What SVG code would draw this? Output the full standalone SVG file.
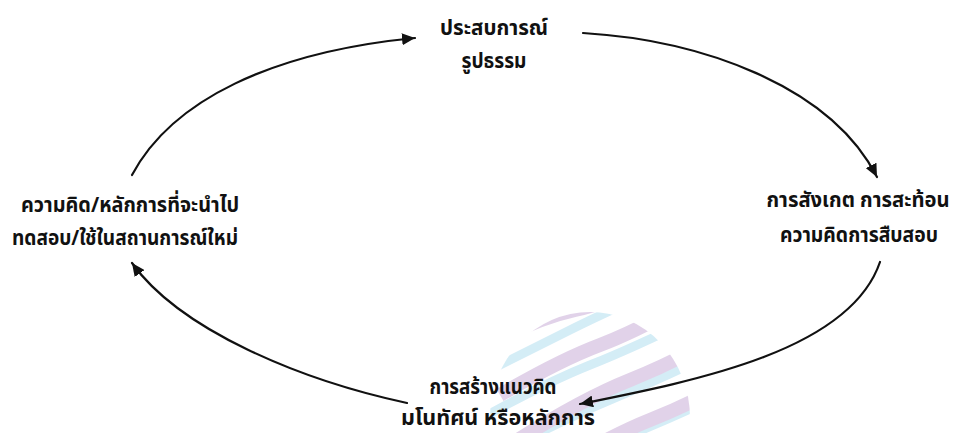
<svg xmlns="http://www.w3.org/2000/svg" width="956" height="433" viewBox="0 0 956 433">
<style>
.t{font-family:"Noto Sans Thai","Noto Sans","Liberation Sans",sans-serif;font-weight:bold;font-size:21px;fill:#111;text-anchor:middle}
.c{fill:none;stroke:#111;stroke-width:2.2;stroke-linecap:round}
.wp{fill:none;stroke:#dccbe5;stroke-width:14}
.wb{fill:none;stroke:#cdeaf5;stroke-width:9}
</style>
<defs>
<marker id="ah" markerUnits="userSpaceOnUse" markerWidth="14" markerHeight="12" refX="13" refY="6" orient="auto">
<path d="M0,0 L13,6 L0,12 z" fill="#111"/>
</marker>
<clipPath id="wc"><ellipse cx="590" cy="418" rx="100" ry="106"/></clipPath>
</defs>
<rect width="956" height="433" fill="#fff"/>
<g id="watermark" clip-path="url(#wc)" opacity="0.85">
<path class="wb" d="M470,380 Q530,350 570,330 T700,270"/>
<path class="wb" d="M470,425 Q540,385 590,365 T710,310"/>
<path class="wb" d="M470,470 Q550,425 610,400 T720,350"/>
<path class="wb" d="M490,500 Q570,460 630,435 T730,390"/>
<path class="wp" d="M480,350 Q530,320 575,310 T690,265"/>
<path class="wp" d="M500,395 Q560,360 600,345 T710,290"/>
<path class="wp" d="M510,445 Q580,400 630,380 T730,330"/>
<path class="wp" d="M520,490 Q600,440 650,420 T740,375"/>
<path class="wp" d="M560,520 Q630,475 680,455 T760,415"/>
</g>
<g id="connectors">
<path class="c" d="M132,175 C172,100 272,52 415,38" marker-end="url(#ah)"/>
<path class="c" d="M583,33 C700,40 830,85 877,177" marker-end="url(#ah)"/>
<path class="c" d="M880,262 C850,350 700,380 580,404" marker-end="url(#ah)"/>
<path class="c" d="M407,403 C300,380 180,330 132,263" marker-end="url(#ah)"/>
</g>
<g id="node-top">
<text class="t" x="494" y="35" textLength="108" lengthAdjust="spacingAndGlyphs">ประสบการณ์</text>
<text class="t" x="494" y="68" textLength="65" lengthAdjust="spacingAndGlyphs">รูปธรรม</text>
</g>
<g id="node-right">
<text class="t" x="858" y="207" textLength="183" lengthAdjust="spacingAndGlyphs">การสังเกต การสะท้อน</text>
<text class="t" x="859" y="242" textLength="158" lengthAdjust="spacingAndGlyphs">ความคิดการสืบสอบ</text>
</g>
<g id="node-bottom">
<text class="t" x="493" y="394" textLength="127" lengthAdjust="spacingAndGlyphs">การสร้างแนวคิด</text>
<text class="t" x="498" y="425" textLength="194" lengthAdjust="spacingAndGlyphs">มโนทัศน์ หรือหลักการ</text>
</g>
<g id="node-left">
<text class="t" x="130" y="212" textLength="218" lengthAdjust="spacingAndGlyphs">ความคิด/หลักการที่จะนำไป</text>
<text class="t" x="125" y="245" textLength="226" lengthAdjust="spacingAndGlyphs">ทดสอบ/ใช้ในสถานการณ์ใหม่</text>
</g>
</svg>
